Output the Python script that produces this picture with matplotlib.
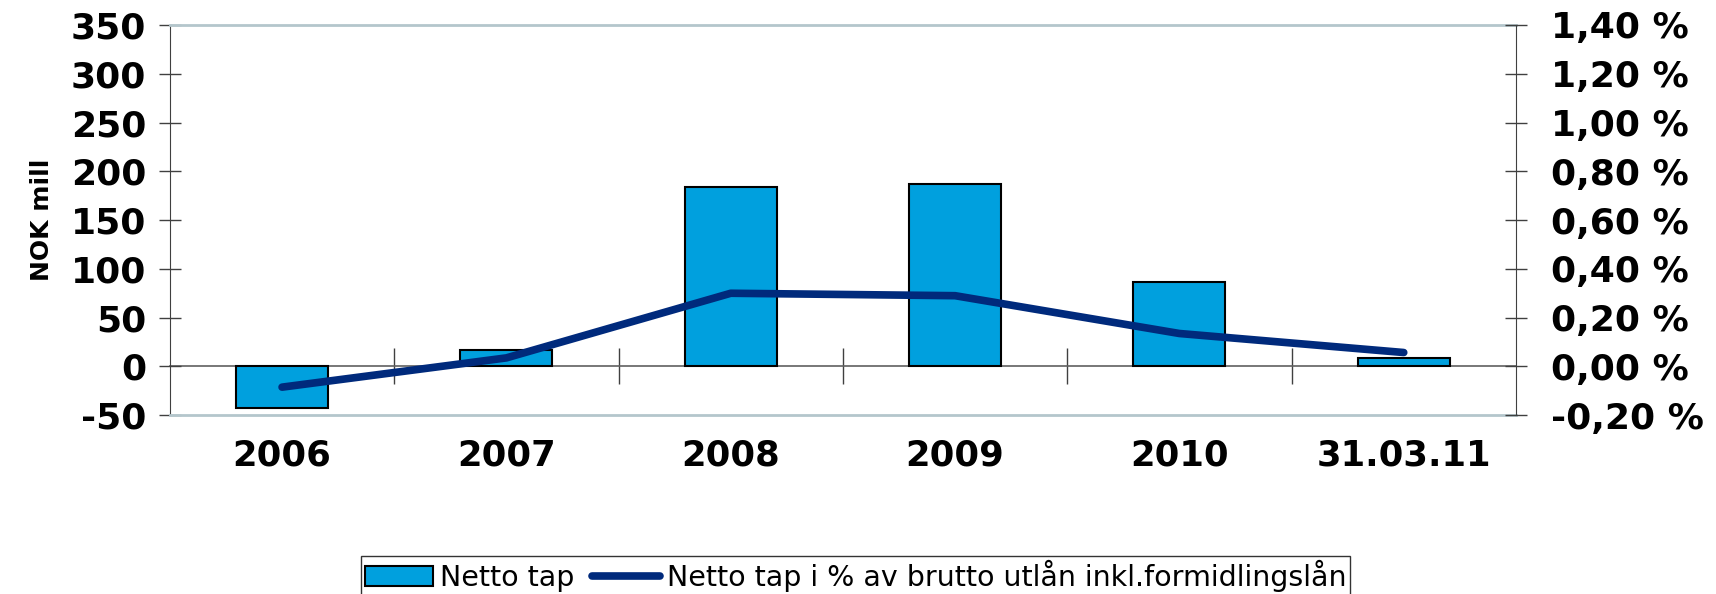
import matplotlib.pyplot as plt
import matplotlib.ticker as mticker
import numpy as np

plt.rcParams['axes.unicode_minus'] = False

# Data
categories = ['2006', '2007', '2008', '2009', '2010', '31.03.11']
netto_tap = [-43, 17, 184, 187, 87, 9]
netto_tap_pct = [-0.085, 0.035, 0.30, 0.29, 0.135, 0.057]

bar_color = '#00A0DE'
line_color = '#002A7C'

fig = plt.figure(figsize=(17.16, 5.94), dpi=100)
ax = fig.add_axes([0.099, 0.301, 0.7844, 0.657])
x = np.arange(len(categories))

ax.bar(x, netto_tap, width=0.41, color=bar_color, edgecolor='black', linewidth=1.5,
       label='Netto tap', zorder=3)
ax.set_xlim(-0.5, len(categories) - 0.5)
ax.set_ylim(-50, 350)
ax.set_yticks(np.arange(-50, 351, 50))

ax.set_xticks(x)
ax.set_xticklabels(categories)
ax.tick_params(axis='x', length=0, pad=17, labelsize=25.5)
ax.tick_params(axis='y', direction='inout', length=16, width=1, color='#404040',
               labelsize=26, pad=9)
for lbl in ax.get_xticklabels() + ax.get_yticklabels():
    lbl.set_fontweight('bold')
ax.set_ylabel('NOK mill', fontsize=18, fontweight='bold', labelpad=12)

for side in ['top', 'bottom']:
    ax.spines[side].set_color('#B4C6CC')
    ax.spines[side].set_linewidth(2)
ax.spines['left'].set_color('#404040')
ax.spines['right'].set_visible(False)

# zero line with category separators
zero_pos = 50 / 400
sec = ax.secondary_xaxis(zero_pos)
sec.set_xticks(x[:-1] + 0.5)
sec.set_xticklabels([])
sec.tick_params(direction='inout', length=26, width=1, color='#404040')
sec.spines['bottom'].set_color('#606060')
sec.spines['bottom'].set_linewidth(1.2)
sec.spines['top'].set_visible(False)

ax2 = ax.twinx()
ax2.plot(x, netto_tap_pct, color=line_color, linewidth=5.5, solid_capstyle='round',
         label='Netto tap i % av brutto utlån inkl.formidlingslån', zorder=4)
ax2.set_ylim(-0.2, 1.4)
ax2.set_yticks(np.arange(-0.2, 1.41, 0.2))
ax2.yaxis.set_major_formatter(
    mticker.FuncFormatter(lambda v, p: ('%.2f %%' % (v + 0.0)).replace('.', ',')))
ax2.tick_params(axis='y', direction='inout', length=16, width=1, color='#404040',
                labelsize=26, pad=17)
for lbl in ax2.get_yticklabels():
    lbl.set_fontweight('bold')
for side in ['top', 'bottom', 'left']:
    ax2.spines[side].set_visible(False)
ax2.spines['right'].set_color('#404040')

h1, l1 = ax.get_legend_handles_labels()
h2, l2 = ax2.get_legend_handles_labels()
leg = fig.legend(h1 + h2, l1 + l2, loc='upper center', bbox_to_anchor=(0.4986, 0.064),
                 ncol=2, fontsize=20.5, frameon=True, fancybox=False, edgecolor='black',
                 handlelength=2.4, handletextpad=0.25, columnspacing=0.6,
                 borderpad=0.12, borderaxespad=0)
leg.get_frame().set_linewidth(1)

fig.savefig('out.png', dpi=100)
